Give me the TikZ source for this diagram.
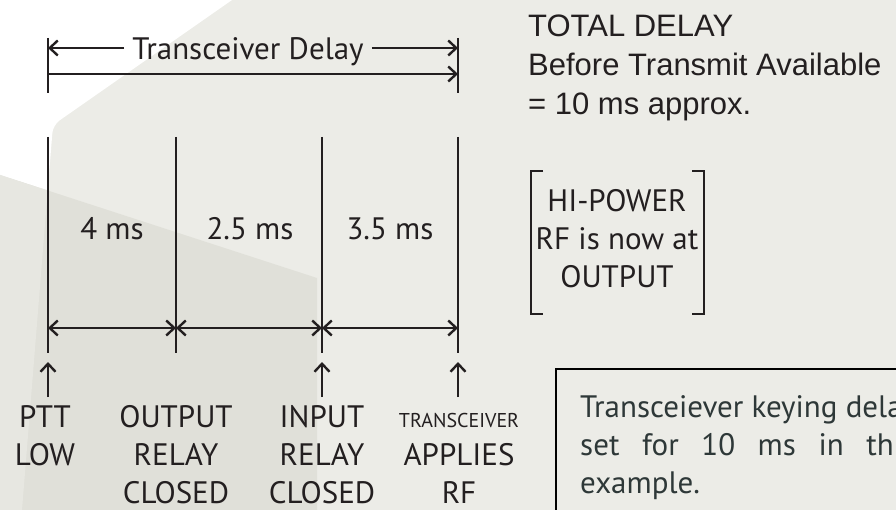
\documentclass[tikz,border=0pt]{standalone}
\usepackage{fontspec}
\setmainfont{PT Sans}
\newfontfamily\arialf{Liberation Sans}
\usetikzlibrary{arrows.meta}
\definecolor{bgbase}{HTML}{ECECE7}
\definecolor{ovdark}{HTML}{E0E0D9}
\definecolor{ovlight}{HTML}{E7E7E1}
\definecolor{ink}{HTML}{231F20}
\definecolor{boxtxt}{HTML}{2E3838}
\tikzset{
  barb/.tip={Straight Barb[length=8pt,width=15pt]},
  ln/.style={line width=2.4pt, draw=ink},
  lbl/.style={font=\fontsize{31}{38}\selectfont, text=ink, inner sep=0pt, align=center, anchor=base},
  rtxt/.style={font=\arialf\fontsize{31}{39}\selectfont, text=ink, inner sep=0pt, align=left, anchor=base west},
}
\begin{document}
\begin{tikzpicture}[x=1pt,y=-1pt]
\useasboundingbox (0,0) rectangle (896,510);
\clip (0,0) rectangle (896,510);
% background
\fill[bgbase] (0,0) rectangle (896,510);
\fill[white] (0,0) -- (232,0) [rounded corners=8pt] -- (53,125) [sharp corners] -- (22,510) -- (0,510) -- cycle;
\fill[ovdark] (0,175) -- (317,278) -- (317,510) -- (0,510) -- cycle;
\begin{scope}
\clip (0,0) -- (232,0) [rounded corners=8pt] -- (53,125) [sharp corners] -- (22,510) -- (0,510) -- cycle;
\fill[ovlight] (0,175) -- (317,278) -- (317,510) -- (0,510) -- cycle;
\end{scope}
% coordinates
\coordinate (Atop) at (48,137);  \coordinate (Amid) at (48,328);  \coordinate (Abot) at (48,353);
\coordinate (Btop) at (176,137); \coordinate (Bmid) at (176,328); \coordinate (Bbot) at (176,353);
\coordinate (Ctop) at (322,137); \coordinate (Cmid) at (322,328); \coordinate (Cbot) at (322,353);
\coordinate (Dtop) at (458,137); \coordinate (Dmid) at (458,328); \coordinate (Dbot) at (458,353);
\coordinate (tlt) at (48,38); \coordinate (tlb) at (48,93);
\coordinate (trt) at (458,38); \coordinate (trb) at (458,93);
\coordinate (tl1) at (48,48); \coordinate (tr1) at (458,48);
\coordinate (tl2) at (48,74); \coordinate (tr2) at (458,74);
% top dimension
\draw[ln] (tlt) -- (tlb);
\draw[ln] (trt) -- (trb);
\node[lbl, font=\fontsize{31}{38}\selectfont] (tdelay) at (248,60) {Transceiver Delay};
\coordinate (tdl) at ([xshift=-8pt]tdelay.west |- tl1);
\coordinate (tdr) at ([xshift=8pt]tdelay.east |- tr1);
\draw[ln, -{barb}] (tdl) -- (tl1);
\draw[ln, -{barb}] (tdr) -- (tr1);
\draw[ln, -{barb}] (tl2) -- (tr2);
% vertical lines
\draw[ln] (Atop) -- (Abot);
\draw[ln] (Btop) -- (Bbot);
\draw[ln] (Ctop) -- (Cbot);
\draw[ln] (Dtop) -- (Dbot);
\draw[ln, {barb}-{barb}] (Amid) -- (Bmid);
\draw[ln, {barb}-{barb}] (Bmid) -- (Cmid);
\draw[ln, {barb}-{barb}] (Cmid) -- (Dmid);
% interval labels
\node[lbl] (m1) at (112,240) {4 ms};
\node[lbl] (m2) at (250,240) {2.5 ms};
\node[lbl] (m3) at (390,240) {3.5 ms};
% up arrows
\coordinate (Aup1) at (48,397);  \coordinate (Aup2) at (48,362);
\coordinate (Cup1) at (322,397); \coordinate (Cup2) at (322,362);
\coordinate (Dup1) at (458,397); \coordinate (Dup2) at (458,362);
\draw[ln, -{barb}] (Aup1) -- (Aup2);
\draw[ln, -{barb}] (Cup1) -- (Cup2);
\draw[ln, -{barb}] (Dup1) -- (Dup2);
% event labels (anchor = baseline of last line)
\node[lbl] (ev1) at (45,465) {PTT\\LOW};
\node[lbl] (ev2) at (176,503) {OUTPUT\\RELAY\\CLOSED};
\node[lbl] (ev3) at (322,503) {INPUT\\RELAY\\CLOSED};
\node[lbl] (ev4) at (459,503) {{\fontsize{20}{38}\selectfont TRANSCEIVER}\\APPLIES\\RF};
% total delay text
\node[rtxt] (total) at (528,115) {TOTAL DELAY\\Before Transmit Available\\= 10 ms approx.};
% bracket note
\node[lbl] (hip) at (617,288) {HI-POWER\\RF is now at\\OUTPUT};
\draw[ln] (543,171) -- (531,171) -- (531,314) -- (543,314);
\draw[ln] (692,171) -- (704,171) -- (704,314) -- (692,314);
% box
\draw[line width=2.4pt, draw=black] (556,369) rectangle (1000,600);
\node[font=\fontsize{31}{38}\selectfont, text=boxtxt, inner sep=0pt, anchor=base west, align=left] (note) at (580,493)
 {\makebox[335pt][l]{Transceiever keying delay}\\
  \makebox[335pt][s]{set for 10 ms in this}\\
  example.};
\end{tikzpicture}
\end{document}
